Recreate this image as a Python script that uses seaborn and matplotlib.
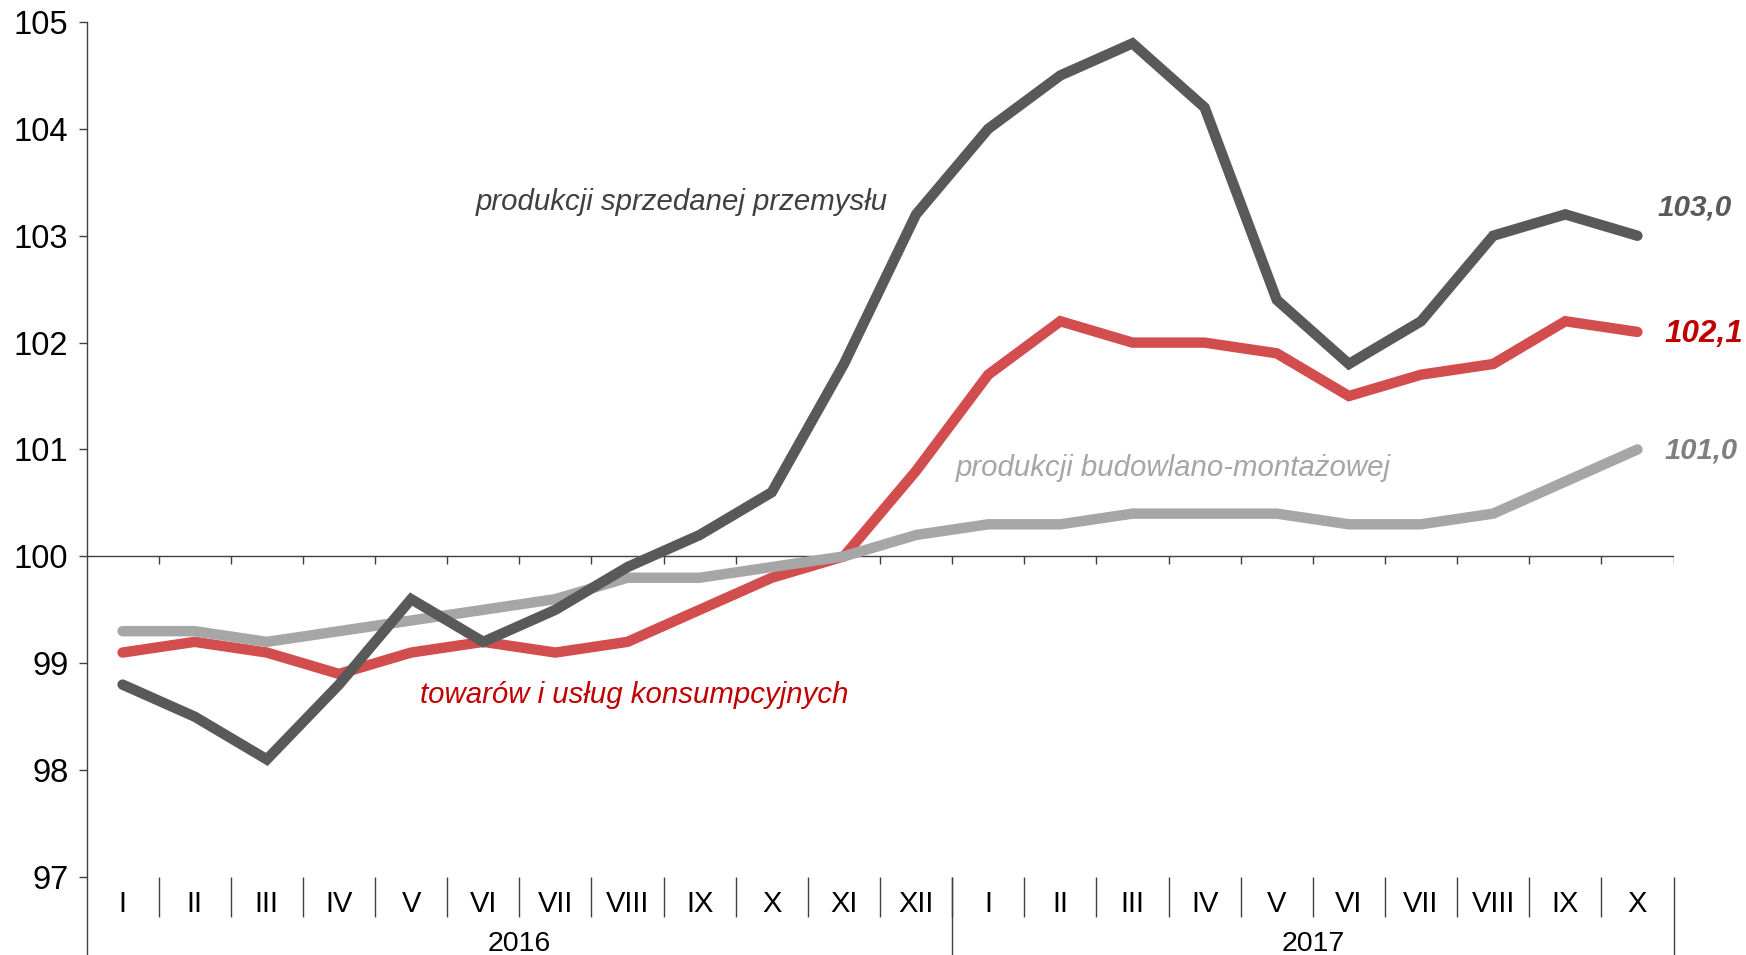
import matplotlib
matplotlib.use("Agg")
import matplotlib.pyplot as plt
import seaborn as sns
import pandas as pd

months = ["I", "II", "III", "IV", "V", "VI", "VII", "VIII", "IX", "X", "XI", "XII",
          "I", "II", "III", "IV", "V", "VI", "VII", "VIII", "IX", "X"]
years = ["2016", "2017"]

przemysl = [98.8, 98.5, 98.1, 98.8, 99.6, 99.2, 99.5, 99.9, 100.2, 100.6, 101.8, 103.2,
            104.0, 104.5, 104.8, 104.2, 102.4, 101.8, 102.2, 103.0, 103.2, 103.0]
konsumpcja = [99.1, 99.2, 99.1, 98.9, 99.1, 99.2, 99.1, 99.2, 99.5, 99.8, 100.0, 100.8,
              101.7, 102.2, 102.0, 102.0, 101.9, 101.5, 101.7, 101.8, 102.2, 102.1]
budownictwo = [99.3, 99.3, 99.2, 99.3, 99.4, 99.5, 99.6, 99.8, 99.8, 99.9, 100.0, 100.2,
               100.3, 100.3, 100.4, 100.4, 100.4, 100.3, 100.3, 100.4, 100.7, 101.0]

sns.set_style("white")
plt.rcParams['font.family'] = ['Liberation Sans', 'DejaVu Sans']

fig = plt.figure(figsize=(17.46, 9.55), dpi=100)
ax = fig.add_axes([86.5 / 1746, 0, (1673.5 - 86.5) / 1746, (955 - 22) / 955])

x = list(range(len(months)))
df = pd.DataFrame({"x": x, "przemysl": przemysl, "konsumpcja": konsumpcja,
                   "budownictwo": budownictwo})

# red under light gray under dark gray
for col, color in [("konsumpcja", "#D24D4D"), ("budownictwo", "#A6A6A6"), ("przemysl", "#595959")]:
    sns.lineplot(data=df, x="x", y=col, color=color, linewidth=7.5, ax=ax,
                 solid_capstyle="round", solid_joinstyle="miter", zorder=3)

ax.set_xlim(-0.5, 21.5)
ax.set_ylim(96.27, 105)
ax.set_yticks(range(97, 106))
ax.set_yticklabels([str(v) for v in range(97, 106)], fontsize=23.5, color="black")
ax.tick_params(axis="y", direction="out", length=6, width=1, color="#404040", pad=7, left=True)
ax.set_xticks([])
ax.set_xlabel("")
ax.set_ylabel("")
for s in ["top", "right", "bottom"]:
    ax.spines[s].set_visible(False)
ax.spines["left"].set_color("#404040")
ax.spines["left"].set_linewidth(1)

# baseline at 100 with small ticks between months
ax.axhline(100, color="#404040", linewidth=1, zorder=2)
unit = (105 - 96.27) / 933
ax.vlines([i + 0.5 for i in range(22)], 100 - 8 * unit, 100, color="#404040", linewidth=1, zorder=2)

# month labels and separators
for i, m in enumerate(months):
    ax.text(i, 96.75, m, ha="center", va="center", fontsize=21, color="black", clip_on=False)
ax.vlines([i + 0.5 for i in range(21)], 97 - 40 * unit, 97, color="#404040", linewidth=1, clip_on=False)
ax.vlines([11.5, 21.5], 96.27, 97, color="#404040", linewidth=1, clip_on=False)
ax.text(5.5, 96.37, years[0], ha="center", va="center", fontsize=20.5, color="black")
ax.text(16.5, 96.37, years[1], ha="center", va="center", fontsize=20.5, color="black")

# series labels
ax.text(7.75, 103.32, "produkcji sprzedanej przemysłu", ha="center", va="center",
        fontsize=21.2, style="italic", color="#404040")
ax.text(14.56, 100.83, "produkcji budowlano-montażowej", ha="center", va="center",
        fontsize=21.2, style="italic", color="#A6A6A6")
ax.text(7.1, 98.70, "towarów i usług konsumpcyjnych", ha="center", va="center",
        fontsize=21.2, style="italic", color="#C00000")

# end values
ax.text(21.28, 103.26, "103,0", ha="left", va="center", fontsize=21.3, style="italic",
        fontweight="bold", color="#595959", clip_on=False)
ax.text(21.37, 102.08, "102,1", ha="left", va="center", fontsize=22.6, style="italic",
        fontweight="bold", color="#C00000", clip_on=False)
ax.text(21.37, 100.99, "101,0", ha="left", va="center", fontsize=21, style="italic",
        fontweight="bold", color="#7F7F7F", clip_on=False)

fig.savefig("out.png", dpi=100)
